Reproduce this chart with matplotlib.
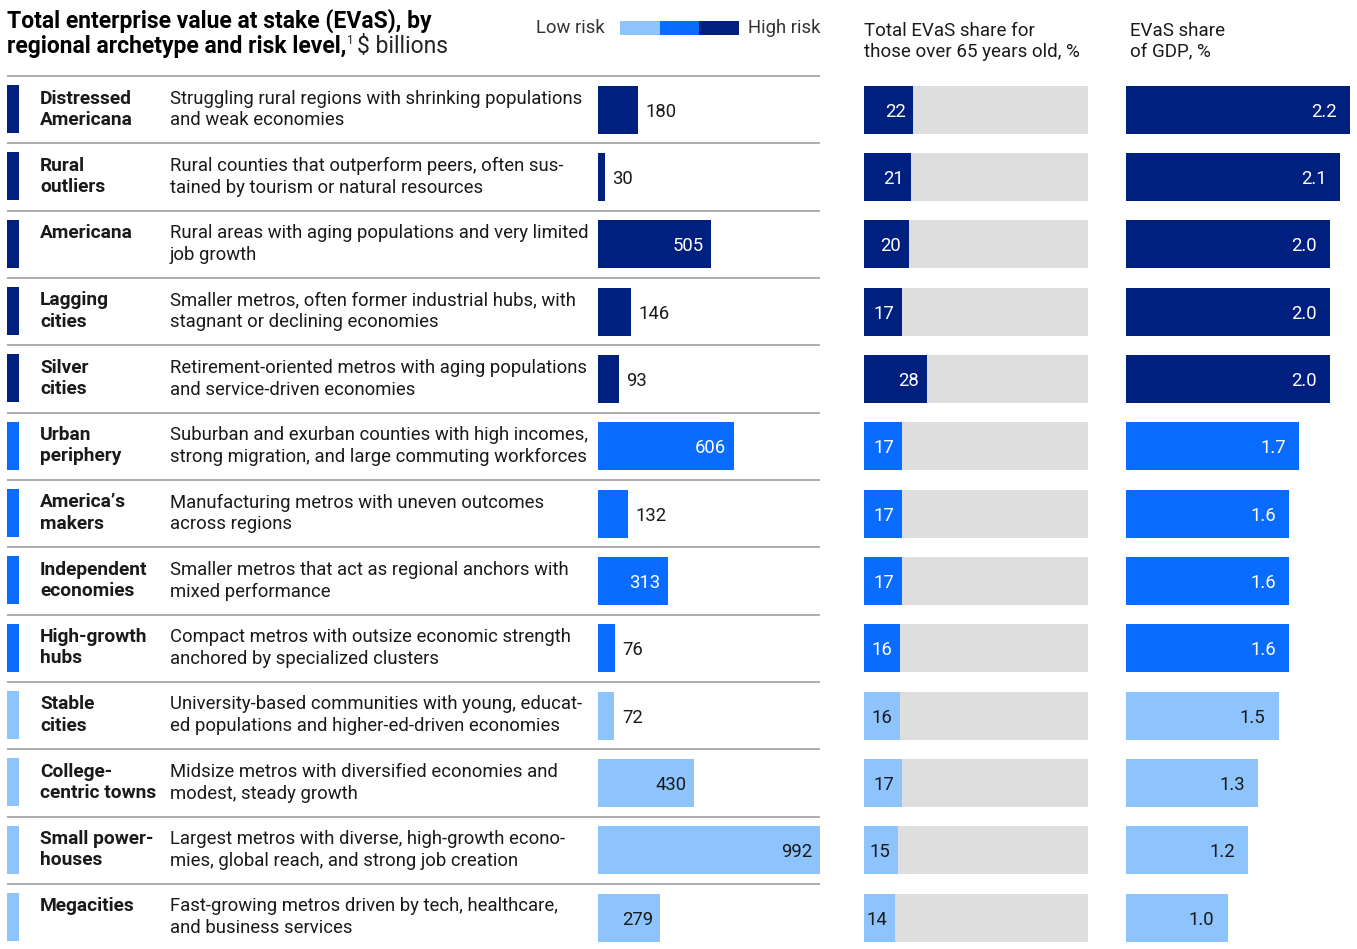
import numpy as np
import matplotlib.pyplot as plt

plt.rcParams['font.family'] = ['Roboto', 'DejaVu Sans']

names = ["Distressed\nAmericana", "Rural\noutliers", "Americana", "Lagging\ncities",
         "Silver\ncities", "Urban\nperiphery", "America\u2019s\nmakers",
         "Independent\neconomies", "High-growth\nhubs", "Stable\ncities",
         "College-\ncentric towns", "Small power-\nhouses", "Megacities"]
descriptions = [
    "Struggling rural regions with shrinking populations\nand weak economies",
    "Rural counties that outperform peers, often sus-\ntained by tourism or natural resources",
    "Rural areas with aging populations and very limited\njob growth",
    "Smaller metros, often former industrial hubs, with\nstagnant or declining economies",
    "Retirement-oriented metros with aging populations\nand service-driven economies",
    "Suburban and exurban counties with high incomes,\nstrong migration, and large commuting workforces",
    "Manufacturing metros with uneven outcomes\nacross regions",
    "Smaller metros that act as regional anchors with\nmixed performance",
    "Compact metros with outsize economic strength\nanchored by specialized clusters",
    "University-based communities with young, educat-\ned populations and higher-ed-driven economies",
    "Midsize metros with diversified economies and\nmodest, steady growth",
    "Largest metros with diverse, high-growth econo-\nmies, global reach, and strong job creation",
    "Fast-growing metros driven by tech, healthcare,\nand business services",
]
risk = ["high"] * 5 + ["mid"] * 4 + ["low"] * 4
evas = [180, 30, 505, 146, 93, 606, 132, 313, 76, 72, 430, 992, 279]
over65 = [22, 21, 20, 17, 28, 17, 17, 17, 16, 16, 17, 15, 14]
gdp_share = [2.2, 2.1, 2.0, 2.0, 2.0, 1.7, 1.6, 1.6, 1.6, 1.5, 1.3, 1.2, 1.0]

palette = {"low": "#8dc4fd", "mid": "#0a6cff", "high": "#00207f"}
label_color = {"low": "#1a1a1a", "mid": "white", "high": "white"}
grey_bg = "#dedede"
rule_color = "#a6a6a6"
text_color = "#1a1a1a"
fs = 13.3

W, H = 1357, 949
fig = plt.figure(figsize=(W / 100, H / 100), dpi=100)

# page-level axes in pixel units for headers, rules and the text table
page = fig.add_axes([0, 0, 1, 1])
page.set_xlim(0, W)
page.set_ylim(H, 0)
page.axis("off")

n = len(names)
top, pitch = 76, 67.33
colors = [palette[r] for r in risk]

# title, two lines drawn separately so the unit can follow the bold part
tfs = 16.5
page.text(7, 18, "Total enterprise value at stake (EVaS), by", fontsize=tfs,
          fontweight="bold", color="black", va="center_baseline")
t2 = page.text(7, 44, "regional archetype and risk level,", fontsize=tfs,
               fontweight="bold", color="black", va="center_baseline")
page.annotate("1", xy=(1, 1), xycoords=t2, fontsize=8.5, color="#222222",
              va="top", ha="left", xytext=(0.5, 0.5), textcoords="offset points")
page.annotate("$ billions", xy=(1, 0), xycoords=t2, fontsize=tfs, color="#222222",
              va="bottom", ha="left", xytext=(8, 0), textcoords="offset points")

# legend
page.text(605, 28, "Low risk", fontsize=fs, color="#333333", ha="right", va="center")
for k, key in enumerate(["low", "mid", "high"]):
    page.add_patch(plt.Rectangle((620 + 39.7 * k, 21), 39.7, 14, color=palette[key], lw=0))
page.text(748, 28, "High risk", fontsize=fs, color="#333333", ha="left", va="center")

page.text(864, 22, "Total EVaS share for\nthose over 65 years old, %", fontsize=13.5,
          color=text_color, va="top", linespacing=1.2)
page.text(1130, 22, "EVaS share\nof GDP, %", fontsize=13.5, color=text_color, va="top",
          linespacing=1.2)

for i in range(n):
    y0 = top + i * pitch
    page.plot([7, 820], [y0, y0], color=rule_color, lw=1.3, solid_capstyle="butt")
    page.add_patch(plt.Rectangle((7, y0 + 9), 12, 48, color=colors[i], lw=0))
    page.text(40, y0 + 13.5, names[i], fontsize=13.8, fontweight="bold", color=text_color,
              va="top", linespacing=1.22)
    page.text(170, y0 + 13.5, descriptions[i], fontsize=fs, color=text_color,
              va="top", linespacing=1.27)


def bar_axes(x0, x1):
    ax = fig.add_axes([x0 / W, 1 - (top + n * pitch) / H, (x1 - x0) / W, n * pitch / H])
    ax.set_ylim(n - 0.5, -0.5)
    ax.axis("off")
    return ax


rows = np.arange(n)
bar_h = 48 / pitch

# EVaS, $ billions
ax1 = bar_axes(598, 820)
ax1.set_xlim(0, max(evas))
ax1.barh(rows, evas, height=bar_h, color=colors)
for i, v in enumerate(evas):
    if v >= 250:
        ax1.annotate(str(v), (v, i), xytext=(-5.5, -1.5), textcoords="offset points",
                     ha="right", va="center", fontsize=fs, color=label_color[risk[i]])
    else:
        ax1.annotate(str(v), (v, i), xytext=(5.5, -1.5), textcoords="offset points",
                     ha="left", va="center", fontsize=fs, color=text_color)

# share over 65, %
ax2 = bar_axes(864, 1088)
ax2.set_xlim(0, 100)
ax2.barh(rows, [100] * n, height=bar_h, color=grey_bg)
ax2.barh(rows, over65, height=bar_h, color=colors)
for i, v in enumerate(over65):
    ax2.annotate(str(v), (v, i), xytext=(-5.5, -1.5), textcoords="offset points",
                 ha="right", va="center", fontsize=fs, color=label_color[risk[i]])

# share of GDP, %
ax3 = bar_axes(1126, 1350)
ax3.set_xlim(0, max(gdp_share))
ax3.barh(rows, gdp_share, height=bar_h, color=colors)
for i, v in enumerate(gdp_share):
    ax3.annotate(f"{v:.1f}", (v, i), xytext=(-9.5, -1.5), textcoords="offset points",
                 ha="right", va="center", fontsize=fs, color=label_color[risk[i]])

fig.savefig("out.png", dpi=100)
